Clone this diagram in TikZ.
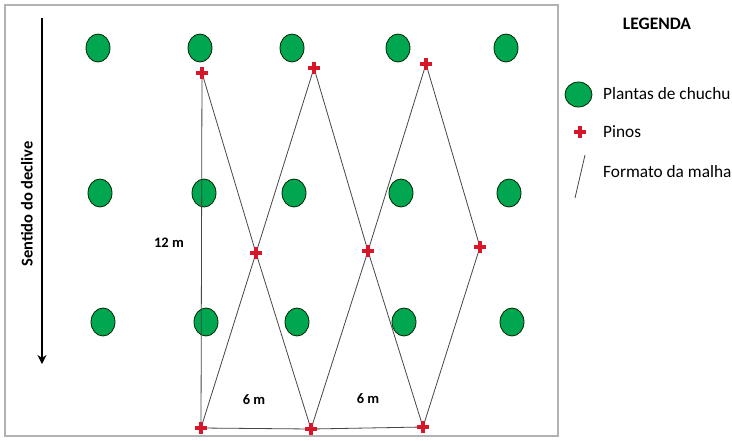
\documentclass[tikz,border=0pt]{standalone}
\usepackage{fontspec}
\setmainfont{Carlito}
\definecolor{plantgreen}{RGB}{0,166,80}
\definecolor{pinred}{RGB}{215,22,42}
\definecolor{meshgray}{RGB}{70,70,70}
\tikzset{
  plant/.style={ellipse, draw=black!85!green, line width=0.8pt, fill=plantgreen, minimum width=24pt, minimum height=28pt, inner sep=0pt},
  pin/.pic={\fill[pinred] (-6pt,-1.8pt) rectangle (6pt,1.8pt); \fill[pinred] (-1.8pt,-6pt) rectangle (1.8pt,6pt);},
  mesh/.style={meshgray, line width=0.8pt},
  lbl/.style={font=\bfseries\fontsize{14.5}{16}\selectfont, inner sep=0pt},
  legtxt/.style={font=\fontsize{17.3}{20}\selectfont, anchor=west, inner sep=0pt}
}
\usetikzlibrary{shapes.geometric,arrows.meta}
\begin{document}
\begin{tikzpicture}[x=1pt,y=-1pt]
\useasboundingbox (0,0) rectangle (732,440);
\fill[white] (0,0) rectangle (732,440);
\draw[gray!60, line width=1.5pt] (5,5) rectangle (558,436);
% plants
\foreach \x [count=\i] in {98,200,292,398,506} \node[plant] (pa\i) at (\x,48) {};
\foreach \x [count=\i] in {100,204,294,401,509} \node[plant] (pb\i) at (\x,193) {};
\foreach \x [count=\i] in {103,206,297,404,512} \node[plant] (pc\i) at (\x,322) {};
% pins coordinates
\coordinate (t1) at (202,73);
\coordinate (t2) at (314,68);
\coordinate (t3) at (426,64);
\coordinate (m1) at (256,253);
\coordinate (m2) at (368,251);
\coordinate (m3) at (480,247);
\coordinate (b1) at (201,428);
\coordinate (b2) at (311,429);
\coordinate (b3) at (423,427);
% mesh
\draw[mesh] (t1) -- (b1);
\draw[mesh] (t1) -- (m1) -- (b2);
\draw[mesh] (t2) -- (m1) -- (b1);
\draw[mesh] (t2) -- (m2) -- (b3);
\draw[mesh] (t3) -- (m2) -- (b2);
\draw[mesh] (t3) -- (m3) -- (b3);
\draw[mesh] (b1) -- (b2) -- (b3);
% pins
\foreach \p in {t1,t2,t3,m1,m2,m3,b1,b2,b3} \pic at (\p) {pin};
% labels
\node[lbl] (l12) at (169,243) {12 m};
\node[lbl] (l6a) at (254,400) {6 m};
\node[lbl] (l6b) at (368,399) {6 m};
% slope arrow
\coordinate (as) at (42,18);
\coordinate (ae) at (42,364);
\draw[line width=1.8pt, -{Stealth[length=9pt,width=9pt]}] (as) -- (ae);
\node[lbl, rotate=90, font=\bfseries\fontsize{16.5}{18}\selectfont] (sd) at (27,204) {Sentido do declive};
% legend
\node[lbl, font=\bfseries\fontsize{17.5}{20}\selectfont] (leg) at (657,24) {LEGENDA};
\node[plant, minimum width=27pt, minimum height=25pt] (lp) at (578.5,94.5) {};
\node[legtxt] (lpt) at (603,94) {Plantas de chuchu};
\pic at (580,132) {pin};
\node[legtxt] (lpi) at (603,132) {Pinos};
\coordinate (lm1) at (585,155);
\coordinate (lm2) at (575,198);
\draw[mesh] (lm1) -- (lm2);
\node[legtxt] (lmt) at (603,172) {Formato da malha};
\end{tikzpicture}
\end{document}
